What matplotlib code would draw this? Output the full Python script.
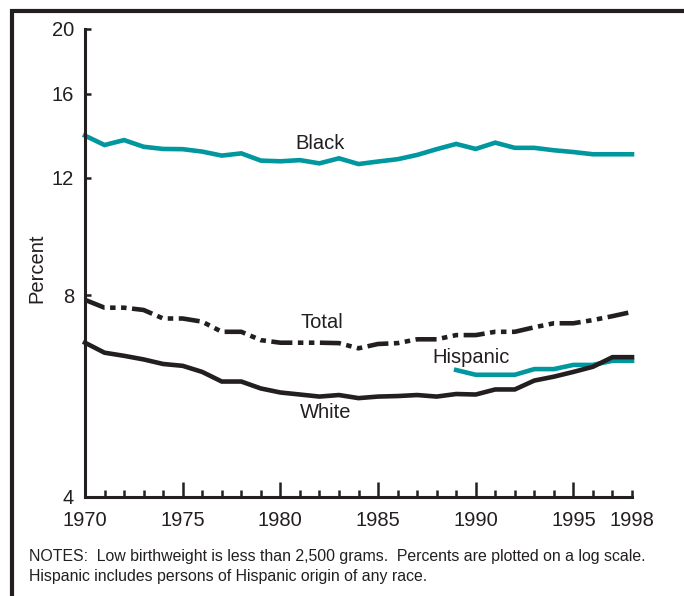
import matplotlib
matplotlib.use("Agg")
import matplotlib.pyplot as plt
from matplotlib.lines import Line2D
from matplotlib.ticker import FixedLocator, NullFormatter, FixedFormatter

plt.rcParams['font.family'] = ['Liberation Sans', 'DejaVu Sans']

years = list(range(1970, 1999))
black = [13.86, 13.42, 13.65, 13.34, 13.24, 13.23, 13.12, 12.94, 13.04, 12.72,
         12.69, 12.74, 12.60, 12.82, 12.57, 12.68, 12.78, 12.97, 13.23, 13.47,
         13.24, 13.53, 13.29, 13.29, 13.18, 13.10, 13.00, 13.00, 13.00]
total = [7.88, 7.67, 7.67, 7.61, 7.39, 7.39, 7.31, 7.06, 7.06, 6.86,
         6.80, 6.80, 6.80, 6.79, 6.67, 6.77, 6.79, 6.88, 6.88, 6.98,
         6.98, 7.06, 7.06, 7.17, 7.27, 7.27, 7.35, 7.45, 7.56]
white = [6.80, 6.57, 6.50, 6.42, 6.32, 6.28, 6.15, 5.95, 5.95, 5.81,
         5.73, 5.69, 5.65, 5.68, 5.62, 5.65, 5.66, 5.68, 5.65, 5.70,
         5.69, 5.79, 5.79, 5.97, 6.05, 6.15, 6.26, 6.47, 6.47]
hisp_years = list(range(1989, 1999))
hispanic = [6.19, 6.09, 6.09, 6.09, 6.21, 6.21, 6.30, 6.30, 6.39, 6.39]

yticks = [4, 8, 12, 16, 20]
major_years = [1970, 1975, 1980, 1985, 1990, 1995]

TEAL = '#00979f'
INK = '#231f20'

fig = plt.figure(figsize=(6.84, 5.96), dpi=100)
ax = fig.add_axes([85/684, 99/596, 547/684, 468/596])

ax.plot(years, black, color=TEAL, lw=3.3, solid_joinstyle='miter', clip_on=False)
ax.plot(hisp_years, hispanic, color=TEAL, lw=3.3, solid_joinstyle='miter', clip_on=False)
ax.plot(years, white, color=INK, lw=3.3, solid_joinstyle='miter', clip_on=False)
ax.plot(years, total, color=INK, lw=3.3, dashes=(4.6, 1.2, 1.2, 1.2, 1.2, 1.2),
        dash_capstyle='butt', clip_on=False)

ax.set_yscale('log')
ax.set_ylim(4, 20)
ax.set_xlim(1970, 1998)

ax.yaxis.set_major_locator(FixedLocator(yticks))
ax.yaxis.set_major_formatter(FixedFormatter([str(v) for v in yticks]))
ax.yaxis.set_minor_locator(FixedLocator([]))
ax.yaxis.set_minor_formatter(NullFormatter())

ax.xaxis.set_major_locator(FixedLocator(major_years))
ax.xaxis.set_major_formatter(FixedFormatter([str(y) for y in major_years]))
minor_years = [y for y in years if y not in major_years]
ax.xaxis.set_minor_locator(FixedLocator(minor_years))
ax.xaxis.set_minor_formatter(FixedFormatter(['1998' if y == 1998 else '' for y in minor_years]))

for s in ['top', 'right']:
    ax.spines[s].set_visible(False)
for s in ['left', 'bottom']:
    ax.spines[s].set_linewidth(2.2)
    ax.spines[s].set_color(INK)

ax.tick_params(axis='y', which='major', direction='in', length=4.5, width=1.8,
               color=INK, labelsize=14.5, pad=8, labelcolor=INK)
ax.tick_params(axis='x', which='major', direction='in', length=10.5, width=1.8,
               color=INK, labelsize=14.5, pad=10, labelcolor=INK)
ax.tick_params(axis='x', which='minor', direction='in', length=5, width=1.8,
               color=INK, labelsize=14.5, pad=10, labelcolor=INK)
for t in ax.yaxis.get_major_ticks():
    if t.get_loc() == 4:
        t.tick1line.set_visible(False)

ax.set_ylabel('Percent', fontsize=14.5, color=INK)
ax.yaxis.set_label_coords(-0.071, 0.489)

lab = dict(fontsize=14.5, color=INK, ha='center', va='center')
ax.text(1982.03, 13.51, 'Black', **lab)
ax.text(1982.13, 7.28, 'Total', **lab)
ax.text(1982.34, 5.34, 'White', **lab)
ax.text(1989.76, 6.47, 'Hispanic', **lab)

fig.text(29/684, 1 - 557/596,
         'NOTES:  Low birthweight is less than 2,500 grams.  Percents are plotted on a log scale.',
         fontsize=11.4, color=INK, ha='left', va='center')
fig.text(29/684, 1 - 577/596,
         'Hispanic includes persons of Hispanic origin of any race.',
         fontsize=11.4, color=INK, ha='left', va='center')

# outer frame (left and top rules)
fy = 1 - 11/596
fx = 11.5/684
fig.add_artist(Line2D([fx, fx], [0, fy + 2/596], transform=fig.transFigure,
                      color=INK, lw=3.0, solid_capstyle='butt'))
fig.add_artist(Line2D([fx - 2/684, 1], [fy, fy], transform=fig.transFigure,
                      color=INK, lw=3.0, solid_capstyle='butt'))

fig.savefig('out.png', dpi=100)
